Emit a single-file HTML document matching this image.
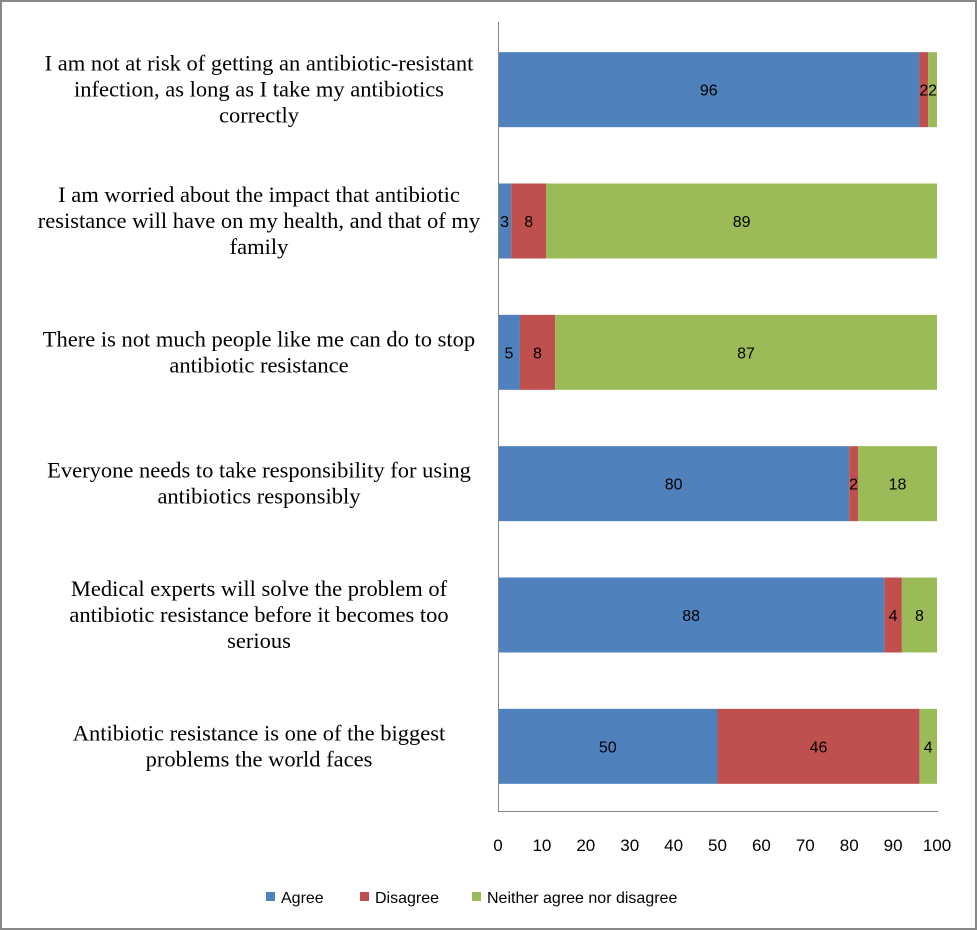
<!DOCTYPE html>
<html><head><meta charset="utf-8"><style>
html,body{margin:0;padding:0;background:#fff}
svg{display:block}
</style></head><body>
<svg id="chart" width="977" height="930" xmlns="http://www.w3.org/2000/svg">
<rect x="1" y="1" width="975" height="928" fill="#fff" stroke="#888" stroke-width="2"/>
<g id="bars"></g>
<g id="labels"></g>
<g id="ticks"></g>
<line x1="498.5" y1="22" x2="498.5" y2="812" stroke="#888" stroke-width="1"/>
<line x1="498" y1="811.5" x2="938" y2="811.5" stroke="#888" stroke-width="1"/>
<g font-family="'Liberation Sans', sans-serif" font-size="16" fill="#000">
<g><rect x="266" y="892" width="9" height="9" fill="#4F81BD"/><text x="281" y="903">Agree</text></g>
<g><rect x="360" y="892" width="9" height="9" fill="#C0504D"/><text x="375" y="903">Disagree</text></g>
<g><rect x="472" y="892" width="9" height="9" fill="#9BBB59"/><text x="487" y="903">Neither agree nor disagree</text></g>
</g>
</svg>
<script>
const categories = [
 ["I am not at risk of getting an antibiotic-resistant","infection, as long as I take my antibiotics","correctly"],
 ["I am worried about the impact that antibiotic","resistance will have on my health, and that of my","family"],
 ["There is not much people like me can do to stop","antibiotic resistance"],
 ["Everyone needs to take responsibility for using","antibiotics responsibly"],
 ["Medical experts will solve the problem of","antibiotic resistance before it becomes too","serious"],
 ["Antibiotic resistance is one of the biggest","problems the world faces"]
];
const agree = [96, 3, 5, 80, 88, 50];
const disagree = [2, 8, 8, 2, 4, 46];
const neither = [2, 89, 87, 18, 8, 4];
const tickLabels = [0,10,20,30,40,50,60,70,80,90,100];
const seriesNames = ["agree","disagree","neither"];
const colors = ["#4F81BD","#C0504D","#9BBB59"];

const NS="http://www.w3.org/2000/svg";
const x0=498, x1=937, plotTop=24, plotBottom=812;
const xScale=v=>x0+(v/100)*(x1-x0);
const band=(plotBottom-plotTop)/categories.length;
const barH=75;
const yCenter=i=>plotTop+band*(i+0.5);
const bars=document.getElementById('bars');
const labels=document.getElementById('labels');
const ticks=document.getElementById('ticks');
const series=[agree,disagree,neither];

categories.forEach((lines,i)=>{
  let cum=0;
  series.forEach((s,k)=>{
    const v=s[i];
    const r=document.createElementNS(NS,'rect');
    
    
    r.setAttribute('x',xScale(cum));
    r.setAttribute('y',yCenter(i)-barH/2);
    r.setAttribute('width',xScale(cum+v)-xScale(cum));
    r.setAttribute('height',barH);
    r.setAttribute('fill',colors[k]);
    bars.appendChild(r);
    const t=document.createElementNS(NS,'text');
    
    
    t.setAttribute('x',(xScale(cum)+xScale(cum+v))/2);
    t.setAttribute('y',yCenter(i)+6);
    t.setAttribute('text-anchor','middle');
    t.setAttribute('font-family',"'Liberation Sans', sans-serif");
    t.setAttribute('font-size','16');
    t.textContent=v;
    bars.appendChild(t);
    cum+=v;
  });
  const n=lines.length, lh=26;
  lines.forEach((ln,j)=>{
    const t=document.createElementNS(NS,'text');
    
    
    t.setAttribute('x',259);
    t.setAttribute('y',yCenter(i)-(n-1)*lh/2+j*lh+7);
    t.setAttribute('text-anchor','middle');
    t.setAttribute('font-family',"'Liberation Serif', serif");
    t.setAttribute('font-size','22.5');
    t.textContent=ln;
    labels.appendChild(t);
  });
});
tickLabels.forEach(v=>{
  const t=document.createElementNS(NS,'text');
  
  
  t.setAttribute('x',xScale(v));
  t.setAttribute('y',851);
  t.setAttribute('text-anchor','middle');
  t.setAttribute('font-family',"'Liberation Sans', sans-serif");
  t.setAttribute('font-size','17');
  t.textContent=v;
  ticks.appendChild(t);
});
</script>
</body></html>
